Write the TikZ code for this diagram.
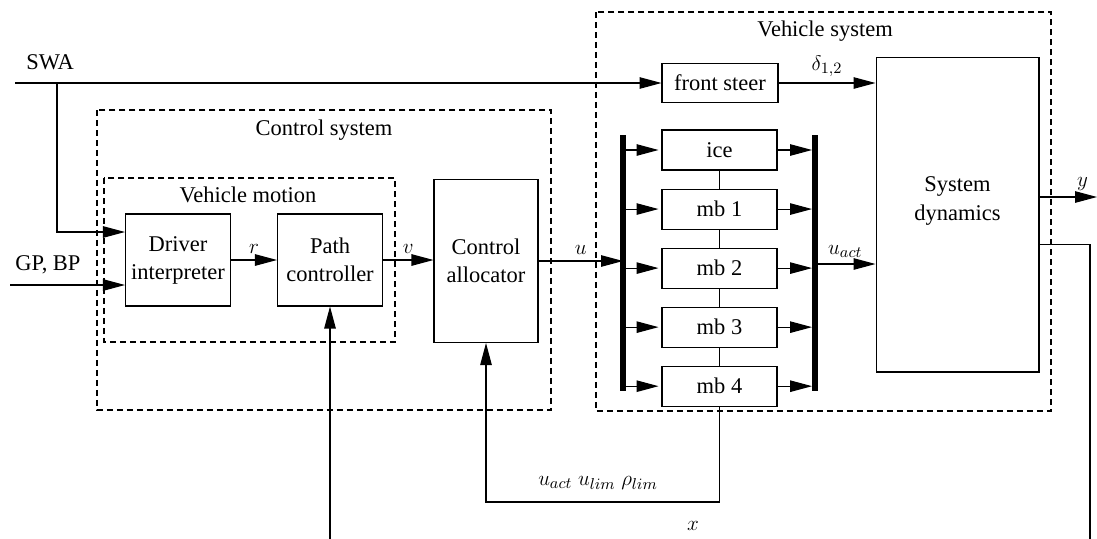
\documentclass[tikz,border=0pt]{standalone}
\usepackage{fontspec}
\setmainfont{Liberation Serif}
\usepackage{amsmath}
\usetikzlibrary{positioning, calc, arrows.meta}
\tikzstyle{block} =
[
	draw,rectangle,semithick,align=center,inner sep=1mm
]
\tikzstyle{group} =
[
	draw,semithick,dash pattern=on 1.2mm off 0.8mm
]
\tikzstyle{bus} = [line width=3.4pt]

\begin{document}
\begin{tikzpicture}[x=0.02cm,y=-0.02cm,>={Triangle[length=4.4mm,width=2.3mm]},semithick,
                    font=\fontsize{12.8}{16}\selectfont,node distance=0.36cm]

\useasboundingbox (0,0) rectangle (1097,538);

% dashed groups
\draw[group] (97,110) rectangle (551,410);
\draw[group] (104,178) rectangle (395,342);
\draw[group] (596,12) rectangle (1051,411);
\node (CS) at (324,130) {Control system};
\node (VM) at (248,195) {Vehicle motion};
\node (VS) at (825,31) {Vehicle system};

% blocks
\node[block, minimum width=2.1cm, minimum height=1.84cm] (drv) at (178,260) {Driver\\interpreter};
\node[block, minimum width=2.1cm, minimum height=1.84cm] (path) at (330,260) {Path\\controller};
\node[block, minimum width=2.08cm, minimum height=3.26cm] (alloc) at (486,261) {Control\\allocator};
\node[block, minimum width=2.32cm, minimum height=0.78cm] (steer) at (720,83) {front steer};
\node[block, minimum width=3.26cm, minimum height=6.3cm] (sd) at (957.5,214.5) {};
\node[align=center] (sdtext) at (957.5,201) {System\\dynamics};

\node[block, minimum width=2.3cm, minimum height=0.8cm] (ice) at (719.5,150) {ice};
\node[block, minimum width=2.3cm, minimum height=0.8cm] (mb1) [below=of ice] {mb 1};
\node[block, minimum width=2.3cm, minimum height=0.8cm] (mb2) [below=of mb1] {mb 2};
\node[block, minimum width=2.3cm, minimum height=0.8cm] (mb3) [below=of mb2] {mb 3};
\node[block, minimum width=2.3cm, minimum height=0.8cm] (mb4) [below=of mb3] {mb 4};

% bus bars
\coordinate (lbt) at (623,135);
\coordinate (lbb) at (623,391);
\coordinate (rbt) at (815,135);
\coordinate (rbb) at (815,391);
\draw[bus] (lbt) -- (lbb);
\draw[bus] (rbt) -- (rbb);

% inputs
\coordinate (swa) at (15,83);
\coordinate (swab) at (57,83);
\coordinate (gp) at (10,285);
\node (SWA) at (50,62) {SWA};
\node (GPBP) at (48,265) {GP, BP};

\draw[->] (swa) -- (steer);
\draw[->] (swab) |- ($(drv.west)+(0,-28)$);
\draw[->] (gp) -- (gp -| drv.west);

\draw[->] (drv) -- node[above] {$r$} (path);
\draw[->] (path.east) -- node[above] {$v$} (alloc.west |- path.east);
\draw[->] (alloc.east) -- node[above] {$u$} (lbt |- alloc.east);

\foreach \b in {ice,mb1,mb2,mb3,mb4}
{
	\draw[->,shorten >=1.7pt] (lbt |- \b.west) -- (\b.west);
	\draw[->,shorten >=1.7pt] (\b.east) -- (rbt |- \b.east);
}
\draw (ice) -- (mb1);
\draw (mb1) -- (mb2);
\draw (mb2) -- (mb3);
\draw (mb3) -- (mb4);

\draw[->] (steer) -- node[above] {$\delta_{1,2}$} (steer -| sd.west);

\coordinate (uact) at (815,264);
\draw[->] (uact) -- node[above] {$u_{act}$} (uact -| sd.west);

\coordinate (yout) at (1097,197);
\draw[->] (sd.east |- yout) -- node[above, pos=0.75] {$y$} (yout);

% feedback
\coordinate (xr) at (1090,542);
\draw[->] ($(sd.east)+(0,30)$) -| (xr) -| (path.south);
\node (X) at (693,526) {$x$};

\coordinate (fb) at (719.5,502);
\draw[->] (mb4.south) -- (fb) -| (alloc.south);
\node (LIM) at (598,483) {$u_{act}\ u_{lim}\ \rho_{lim}$};

\end{tikzpicture}
\end{document}
